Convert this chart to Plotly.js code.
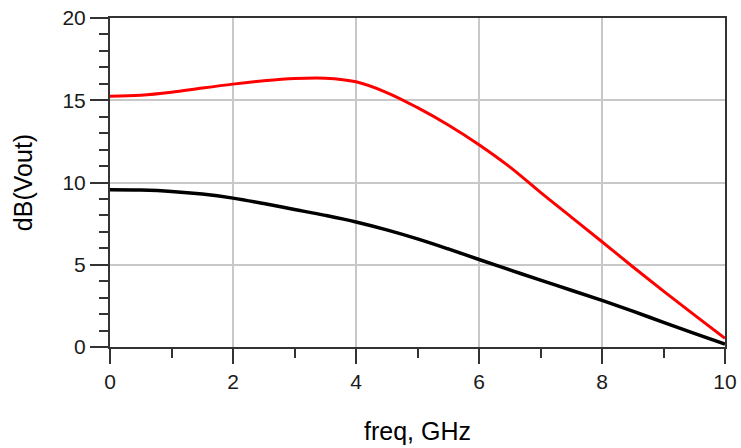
<!DOCTYPE html>
<html>
<head>
<meta charset="utf-8">
<script src="https://cdn.plot.ly/plotly-3.0.1.min.js"></script>
<style>
  html, body { margin: 0; padding: 0; background: #ffffff; }
  #chart { width: 741px; height: 448px; }
</style>
</head>
<body>
<div id="chart"></div>
<script>
// Frequency sweep, GHz
const freq = [0, 0.5, 1, 1.5, 2, 2.5, 3, 3.5, 4, 4.5, 5, 5.5, 6, 6.5, 7, 7.5, 8, 8.5, 9, 9.5, 10];

// dB(Vout), peaked response (red)
const voutPeaked = [15.25, 15.3, 15.48, 15.74, 15.98, 16.18, 16.32, 16.34, 16.12, 15.47, 14.55, 13.5, 12.3, 10.95, 9.4, 7.9, 6.4, 4.88, 3.4, 1.95, 0.53];

// dB(Vout), flat response (black)
const voutFlat = [9.56, 9.54, 9.46, 9.3, 9.05, 8.72, 8.36, 8.0, 7.6, 7.12, 6.57, 5.96, 5.32, 4.69, 4.06, 3.45, 2.83, 2.18, 1.5, 0.83, 0.18];

const xTicks = [0, 2, 4, 6, 8, 10];
const yTicks = [0, 5, 10, 15, 20];

const tickFont = { family: 'Liberation Sans, Arial, sans-serif', size: 21, color: '#1a1a1a' };
const titleFont = { family: 'Liberation Sans, Arial, sans-serif', size: 25, color: '#000000' };

const traces = [
  {
    x: freq, y: voutFlat, type: 'scatter', mode: 'lines',
    line: { color: '#000000', width: 3.5, shape: 'spline', smoothing: 1 },
    hoverinfo: 'skip'
  },
  {
    x: freq, y: voutPeaked, type: 'scatter', mode: 'lines',
    line: { color: '#ff0000', width: 3, shape: 'spline', smoothing: 1 },
    hoverinfo: 'skip'
  }
];

const layout = {
  width: 741, height: 448,
  margin: { l: 110, r: 16, t: 18, b: 101 },
  paper_bgcolor: '#ffffff',
  plot_bgcolor: '#ffffff',
  showlegend: false,
  xaxis: {
    range: [0, 10],
    tickmode: 'array', tickvals: xTicks, ticktext: xTicks.map(String),
    ticks: 'outside', ticklen: 15, tickwidth: 2, tickcolor: '#333333',
    minor: { dtick: 1, ticks: 'outside', ticklen: 9, tickwidth: 2, tickcolor: '#333333', showgrid: false },
    showgrid: true, gridcolor: '#c8c8c8', gridwidth: 2,
    zeroline: false,
    showline: true, linecolor: '#333333', linewidth: 2, mirror: true,
    tickfont: tickFont,
    title: { text: 'freq, GHz', font: titleFont, standoff: 30 }
  },
  yaxis: {
    range: [0, 20],
    tickmode: 'array', tickvals: yTicks, ticktext: yTicks.map(String),
    ticks: 'outside', ticklen: 18, tickwidth: 2, tickcolor: '#333333',
    minor: { dtick: 1, ticks: 'outside', ticklen: 9, tickwidth: 2, tickcolor: '#333333', showgrid: false },
    showgrid: true, gridcolor: '#c8c8c8', gridwidth: 2,
    zeroline: false,
    showline: true, linecolor: '#333333', linewidth: 2, mirror: true,
    tickfont: tickFont,
    title: { text: 'dB(Vout)', font: titleFont, standoff: 23 }
  }
};

Plotly.newPlot('chart', traces, layout, { staticPlot: true, displayModeBar: false });
</script>
</body>
</html>
